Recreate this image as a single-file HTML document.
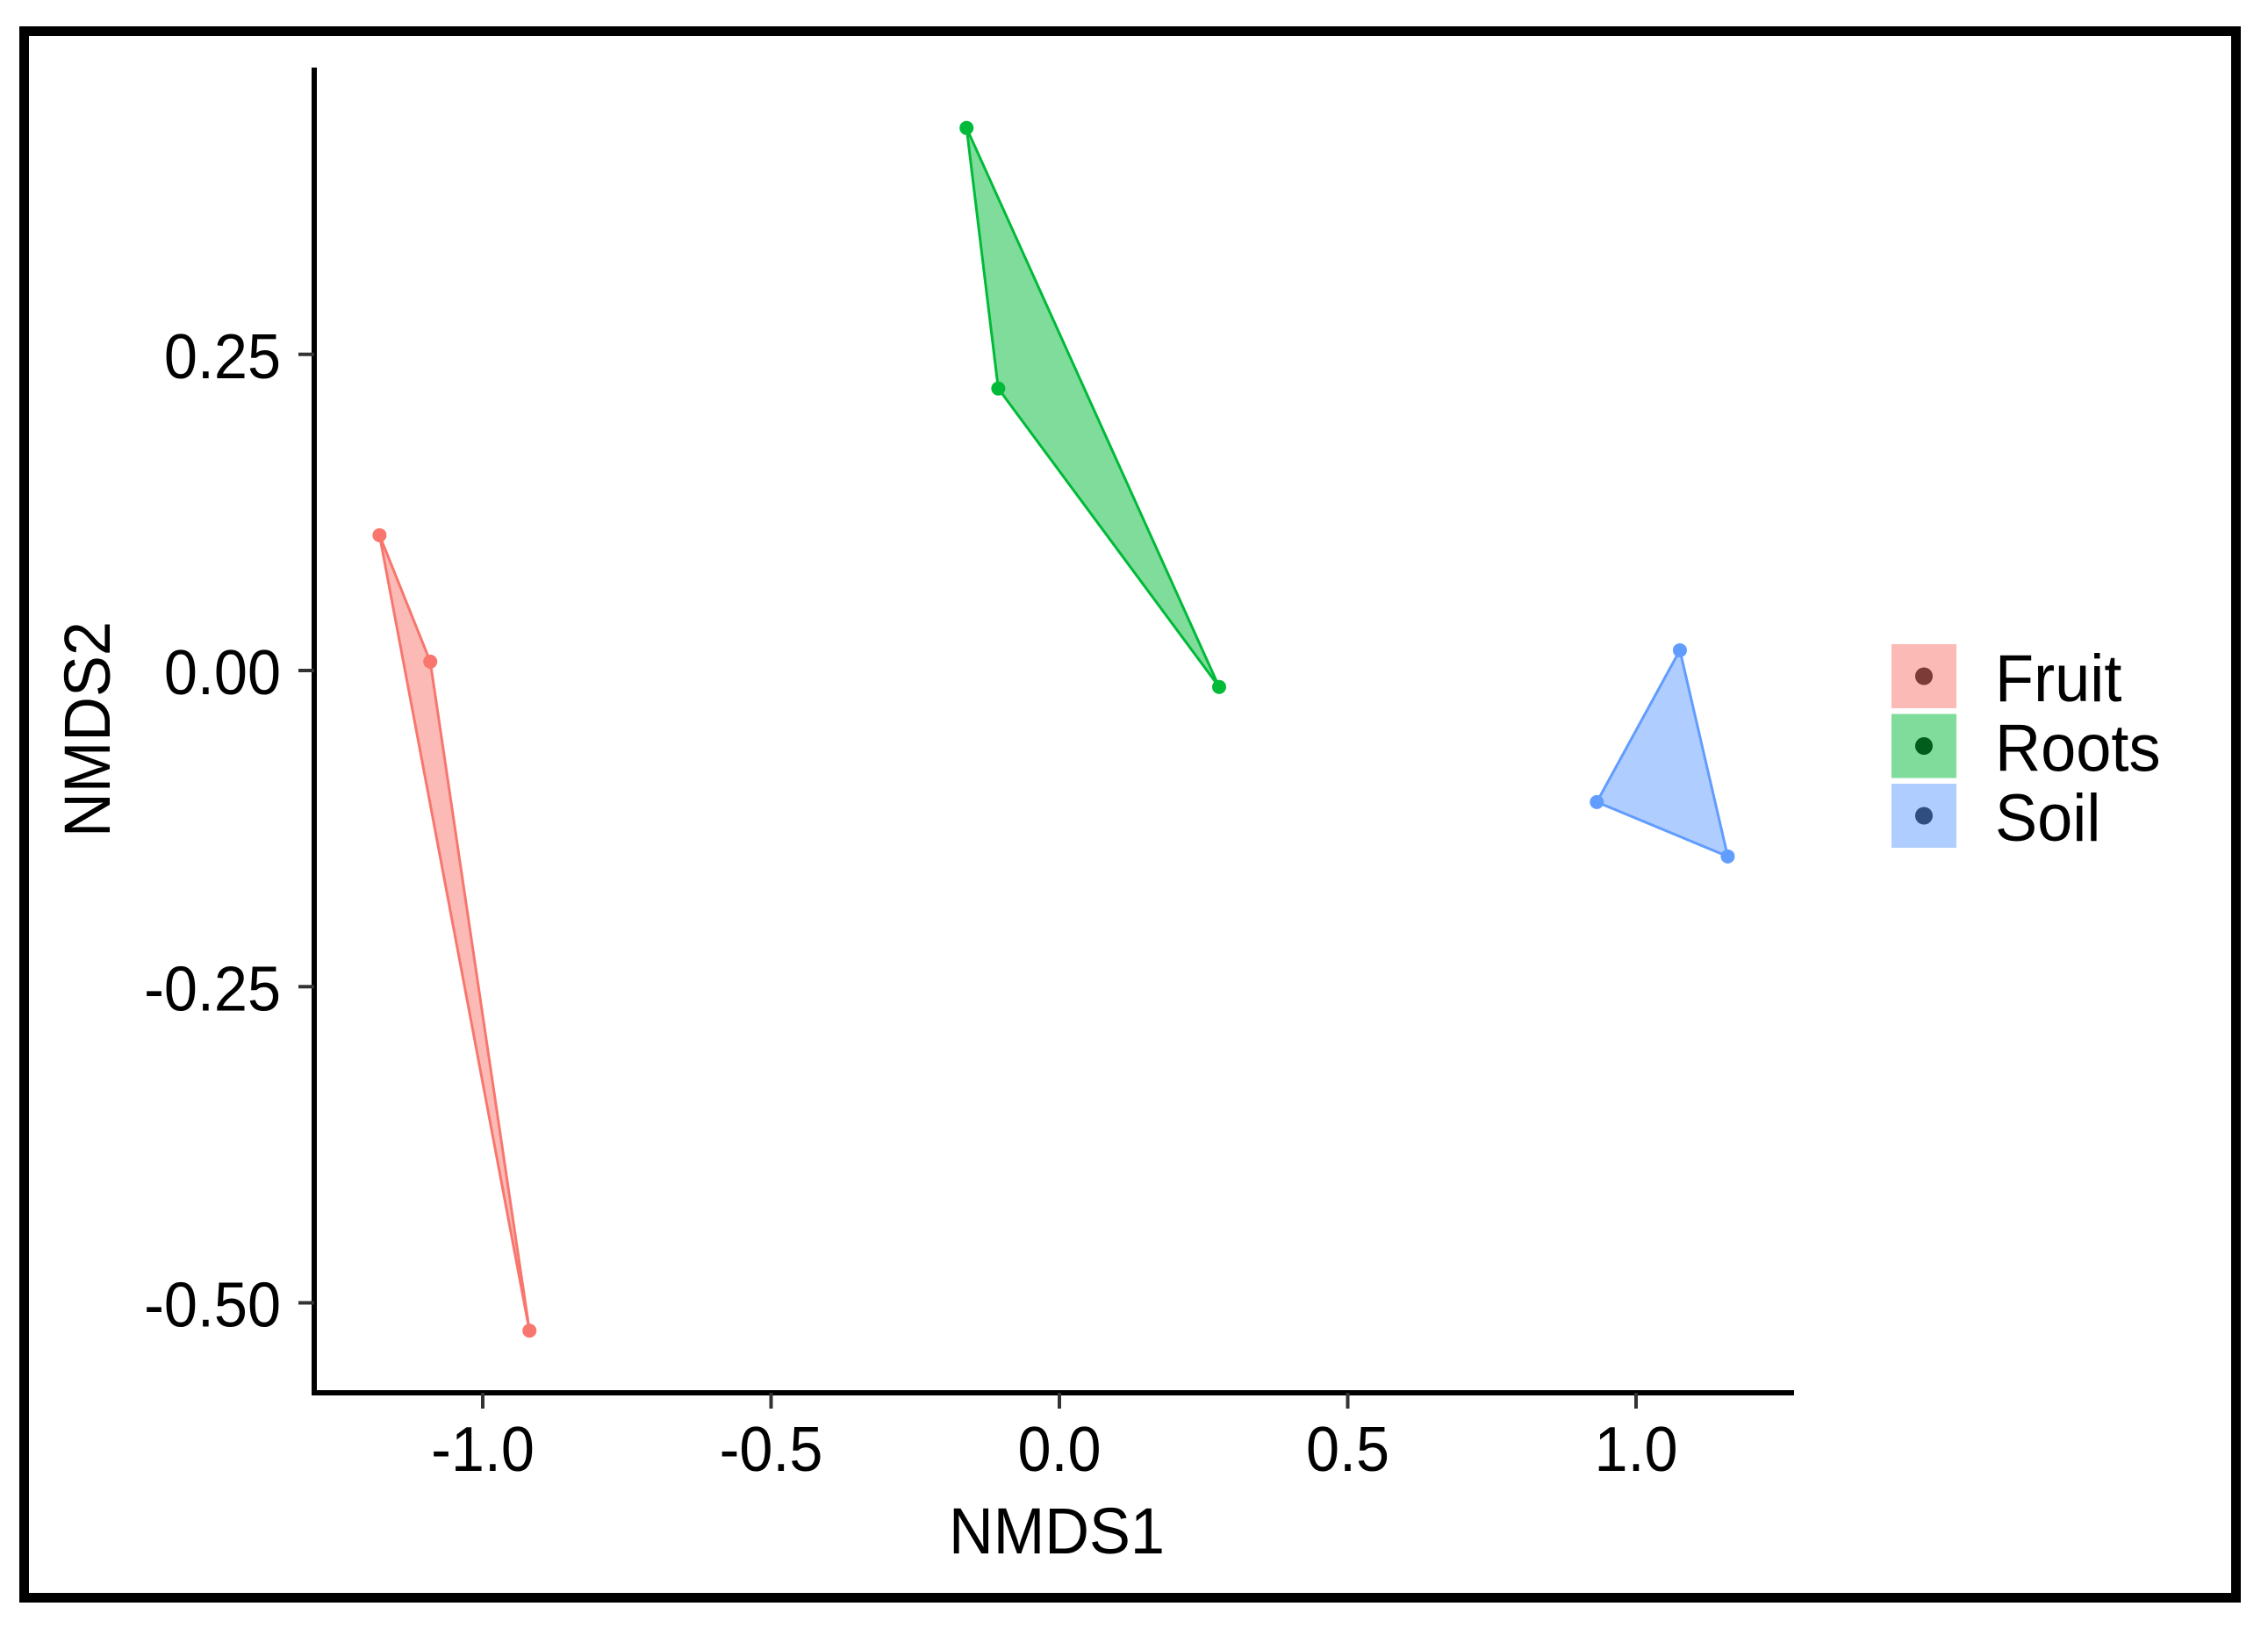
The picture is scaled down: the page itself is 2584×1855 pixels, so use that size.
<!DOCTYPE html>
<html><head><meta charset="utf-8"><style>
html,body{margin:0;padding:0;background:#fff}
svg{display:block}
text{font-family:"Liberation Sans",Arial,sans-serif;fill:#000}
</style></head><body>
<svg id="chart" width="2584" height="1855" viewBox="0 0 2584 1855" xmlns="http://www.w3.org/2000/svg">
<rect x="27.5" y="35.5" width="2520" height="1785" fill="none" stroke="#000" stroke-width="11"/>
<g id="plot"></g>
</svg>
<script>
const groups = ["Fruit", "Roots", "Soil"];
const fruitX = [-1.179, -1.091, -0.919];
const fruitY = [0.107, 0.007, -0.522];
const rootsX = [-0.161, -0.106, 0.277];
const rootsY = [0.429, 0.223, -0.013];
const soilX = [1.076, 0.932, 1.159];
const soilY = [0.016, -0.104, -0.147];
const xTicks = [-1.0, -0.5, 0.0, 0.5, 1.0];
const xTickLabels = ["-1.0", "-0.5", "0.0", "0.5", "1.0"];
const yTicks = [0.25, 0.0, -0.25, -0.5];
const yTickLabels = ["0.25", "0.00", "-0.25", "-0.50"];

const NS = "http://www.w3.org/2000/svg";
const g = document.getElementById('plot');
function sx(v){ return 1207 + v * 657; }
function sy(v){ return 764 - v * 1441; }
function mk(tag, attrs, parent){
  const e = document.createElementNS(NS, tag);
  for (const k in attrs) e.setAttribute(k, attrs[k]);
  (parent || g).appendChild(e);
  return e;
}
function condensed(x, y, anchor, size, str){
  const t = mk('text', {x: 0, y: 0, 'text-anchor': anchor, 'font-size': size, transform: 'translate(' + x + ',' + y + ') scale(0.95,1)'});
  t.textContent = str;
  return t;
}
const colors = {Fruit:"#F8766D", Roots:"#00BA38", Soil:"#619CFF"};
const dots = {Fruit:"#7c3b36", Roots:"#005d1c", Soil:"#304e80"};
const series = {Fruit:[fruitX, fruitY], Roots:[rootsX, rootsY], Soil:[soilX, soilY]};

groups.forEach(name => {
  const [xs, ys] = series[name];
  const pts = xs.map((x, i) => sx(x) + "," + sy(ys[i])).join(" ");
  const poly = mk('polygon', {points: pts, fill: colors[name], 'fill-opacity': 0.5, stroke: colors[name], 'stroke-width': 3, 'stroke-linejoin': 'round'});
  
  
  xs.forEach((x, i) => {
    const c = mk('circle', {cx: sx(x), cy: sy(ys[i]), r: 8, fill: colors[name]});
    
    
  });
});

const ya = mk('line', {x1: 358, y1: 77, x2: 358, y2: 1590, stroke: '#000', 'stroke-width': 6});


const xa = mk('line', {x1: 355, y1: 1587, x2: 2044, y2: 1587, stroke: '#000', 'stroke-width': 6});



xTicks.forEach((v, i) => {
  const t = mk('line', {x1: sx(v), y1: 1587, x2: sx(v), y2: 1605, stroke: '#333', 'stroke-width': 4});
  
  
  const l = condensed(sx(v), 1676, 'middle', 72, xTickLabels[i]);
  
  
});
yTicks.forEach((v, i) => {
  const t = mk('line', {x1: 340, y1: sy(v), x2: 358, y2: sy(v), stroke: '#333', 'stroke-width': 4});
  
  
  const l = condensed(320, sy(v) + 27, 'end', 72, yTickLabels[i]);
  
  
});

const xt = condensed(1204, 1770, 'middle', 74, 'NMDS1');


const yt = mk('text', {x: 0, y: 0, 'text-anchor': 'middle', 'font-size': 74, transform: 'translate(125,831) rotate(-90) scale(0.95,1)'});
yt.textContent = 'NMDS2';



groups.forEach((name, i) => {
  const y0 = 734 + i * 79.5;
  const k = mk('rect', {x: 2155, y: y0, width: 74, height: 73, fill: colors[name], 'fill-opacity': 0.5});
  
  
  const d = mk('circle', {cx: 2192, cy: y0 + 36.5, r: 10, fill: dots[name]});
  
  
  const l = condensed(2273, y0 + 65, 'start', 76, name);
  
  
});
</script>
</body></html>
